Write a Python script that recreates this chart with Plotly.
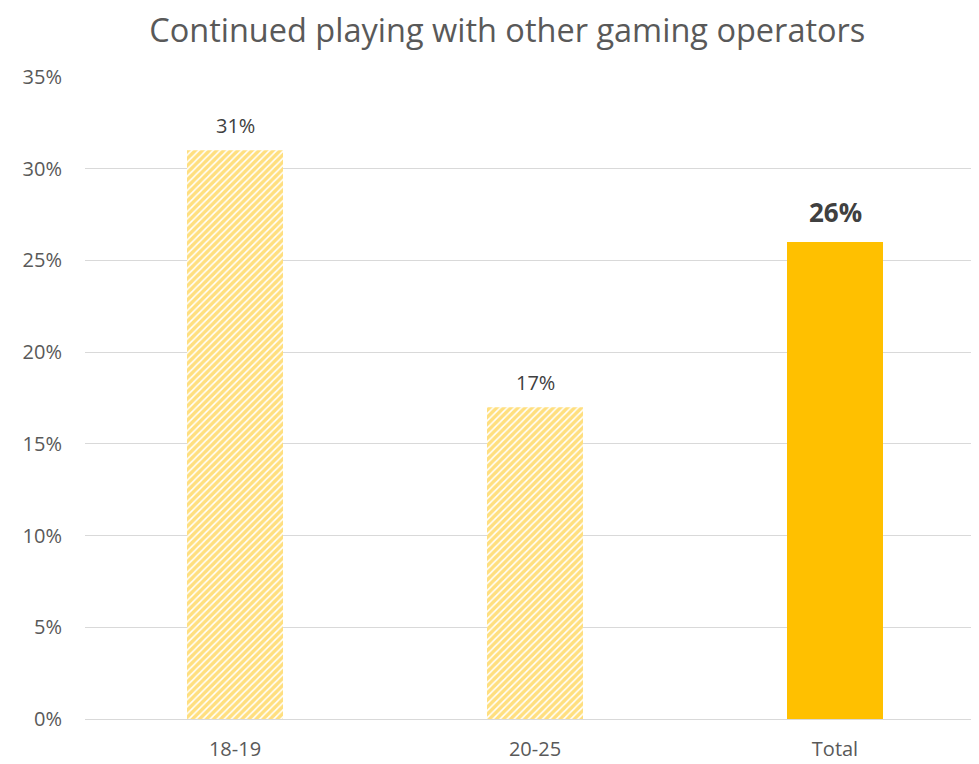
import plotly.graph_objects as go

categories = ["18-19", "20-25", "Total"]
values = [0.31, 0.17, 0.26]
labels = ["31%", "17%", "26%"]
y_ticks = [0, 0.05, 0.10, 0.15, 0.20, 0.25, 0.30, 0.35]
y_tick_text = ["0%", "5%", "10%", "15%", "20%", "25%", "30%", "35%"]

gold = "#FFC000"
font_family = "'Open Sans', sans-serif"

fig = go.Figure()
fig.add_trace(go.Bar(
    x=categories[:2], y=values[:2],
    marker=dict(color="white", line=dict(width=0),
                pattern=dict(shape="/", fgcolor=gold, bgcolor="white", size=5, solidity=0.7)),
    showlegend=False, hoverinfo="skip",
))
fig.add_trace(go.Bar(
    x=categories[2:], y=values[2:],
    marker=dict(color=gold, line=dict(width=0)),
    showlegend=False, hoverinfo="skip",
))

for c, v, t in zip(categories, values, labels):
    bold = (c == "Total")
    fig.add_annotation(
        x=c, y=v, xref="x", yref="y",
        text=("<b>" + t + "</b>") if bold else t,
        showarrow=False, yanchor="bottom", yshift=10 if bold else 9,
        font=dict(size=26 if bold else 20, color="#404040", family=font_family),
    )

fig.update_layout(
    width=979, height=764,
    margin=dict(l=77, r=2, t=69, b=53),
    paper_bgcolor="white", plot_bgcolor="white",
    barmode="overlay", bargap=0.68,
    title=dict(text="Continued playing with other gaming operators",
               x=0.51, xanchor="center", y=0.985, yanchor="top",
               font=dict(size=32.5, color="#595959", family=font_family)),
    font=dict(family=font_family, color="#595959", size=20),
    xaxis=dict(categoryorder="array", categoryarray=categories,
               showgrid=False, showline=False, ticks="",
               tickfont=dict(size=20, color="#595959"), ticklabelstandoff=16),
    yaxis=dict(range=[0, 0.35], tickvals=y_ticks, ticktext=y_tick_text,
               showgrid=True, gridcolor="#D9D9D9", gridwidth=1,
               zeroline=True, zerolinecolor="#D9D9D9", zerolinewidth=1,
               showline=False, ticks="", ticklabelstandoff=22,
               tickfont=dict(size=20, color="#595959")),
)

fig.write_html("out.html")
